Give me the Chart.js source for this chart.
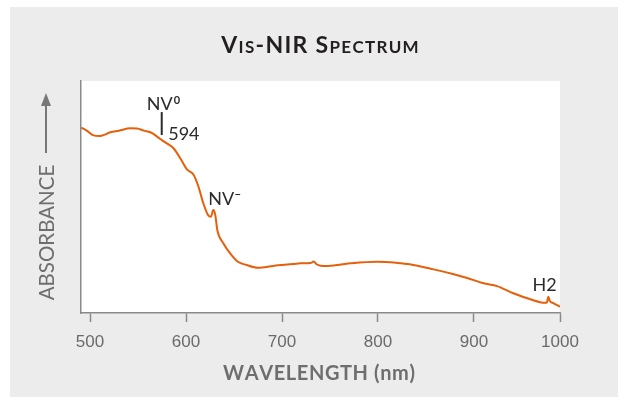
<!DOCTYPE html>
<html>
<head>
<meta charset="utf-8">
<script src="https://cdn.jsdelivr.net/npm/chart.js@4.4.0/dist/chart.umd.min.js"></script>
<style>
  html, body { margin: 0; padding: 0; background: #fff; }
  #wrap { width: 628px; height: 402px; }
</style>
</head>
<body>
<div id="wrap"><canvas id="spectrum" width="628" height="402"></canvas></div>
<script>
/* =========================
   DATA
========================= */

const wavelength = [
  491, 497, 503, 510, 516, 521, 530, 542, 549, 556, 564, 571, 576, 580, 587,
  594, 601, 608, 613, 618, 623, 626, 628.4, 630.5, 632.6, 639, 646, 654, 663,
  675, 691, 712, 719, 730, 733, 736, 740, 748, 771, 799, 820, 833, 858, 878,
  892, 910, 924, 941, 958, 974, 976, 977.4, 979, 983, 990
];

const absorbance = [
  0.799, 0.785, 0.767, 0.763, 0.770, 0.779, 0.786, 0.796, 0.795, 0.786, 0.777,
  0.757, 0.742, 0.731, 0.710, 0.667, 0.619, 0.595, 0.544, 0.473, 0.422, 0.415,
  0.444, 0.422, 0.358, 0.300, 0.257, 0.221, 0.207, 0.195, 0.203, 0.211, 0.214,
  0.216, 0.222, 0.210, 0.204, 0.203, 0.214, 0.221, 0.216, 0.210, 0.188, 0.168,
  0.152, 0.128, 0.116, 0.085, 0.060, 0.044, 0.046, 0.070, 0.052, 0.042, 0.027
];

// the reference puts its last tick ("1000") at the right edge of the plot
const tickNm = [500, 600, 700, 800, 900, 1000];
const tickLabels = ["500", "600", "700", "800", "900", "1000"];

const xMin = 490.6;
const xMax = 989.6;

/* =========================
   DECORATION PLUGIN
========================= */

const GRAY_TEXT = "#6e6e6e";
const DARK = "#231f20";

// draws text letter by letter so we can add tracking
function spacedText(ctx, parts, cx, baseline, spacing) {
  const chars = [];
  parts.forEach(p => {
    for (const c of p.t) chars.push({ c, font: p.font });
  });
  let total = 0;
  chars.forEach(ch => {
    ctx.font = ch.font;
    ch.w = ctx.measureText(ch.c).width;
    total += ch.w + spacing;
  });
  total -= spacing;
  let x = cx - total / 2;
  ctx.textAlign = "left";
  ctx.textBaseline = "alphabetic";
  chars.forEach(ch => {
    ctx.font = ch.font;
    ctx.fillText(ch.c, x, baseline);
    x += ch.w + spacing;
  });
}

const decor = {
  id: "decor",
  beforeDraw(chart) {
    const { ctx, chartArea: a } = chart;
    ctx.save();
    ctx.fillStyle = "#ececec";
    ctx.fillRect(10, 7, 608, 390);
    ctx.fillStyle = "#ffffff";
    ctx.fillRect(a.left, a.top, a.right - a.left, a.bottom - a.top);
    ctx.restore();
  },
  afterDraw(chart) {
    const { ctx } = chart;
    const xs = chart.scales.x;
    const ys = chart.scales.y;
    ctx.save();

    // title (small caps)
    const big = "bold 23px Lato, sans-serif";
    const small = "bold 17px Lato, sans-serif";
    ctx.fillStyle = DARK;
    spacedText(ctx, [
      { t: "V", font: big }, { t: "IS", font: small }, { t: "-NIR ", font: big },
      { t: "S", font: big }, { t: "PECTRUM", font: small }
    ], 320, 52.5, 1.3);

    // x title
    ctx.fillStyle = GRAY_TEXT;
    spacedText(ctx, [{ t: "WAVELENGTH (nm)", font: "bold 20px Lato, sans-serif" }], 319, 379.5, 0.6);

    // y title + arrow
    ctx.save();
    ctx.translate(46, 232.5);
    ctx.rotate(-Math.PI / 2);
    ctx.font = "20.5px Lato, sans-serif";
    ctx.textAlign = "center";
    ctx.textBaseline = "middle";
    ctx.fillText("ABSORBANCE", 0, 1);
    ctx.restore();
    ctx.strokeStyle = "#777";
    ctx.fillStyle = "#777";
    ctx.lineWidth = 2;
    ctx.beginPath();
    ctx.moveTo(46, 153);
    ctx.lineTo(46, 104);
    ctx.stroke();
    ctx.beginPath();
    ctx.moveTo(46, 93);
    ctx.lineTo(51, 106);
    ctx.lineTo(41, 106);
    ctx.closePath();
    ctx.fill();

    // annotations
    ctx.fillStyle = "#2b2b2b";
    ctx.strokeStyle = "#2b2b2b";
    ctx.textAlign = "left";
    ctx.textBaseline = "alphabetic";

    const mx = xs.getPixelForValue(574.7);
    ctx.lineWidth = 2;
    ctx.beginPath();
    ctx.moveTo(mx, ys.getPixelForValue(0.866));
    ctx.lineTo(mx, ys.getPixelForValue(0.767));
    ctx.stroke();

    ctx.font = "18px Lato, sans-serif";
    const nv0x = mx - 15;
    const nv0y = ys.getPixelForValue(0.875);
    ctx.fillText("NV", nv0x, nv0y);
    let w = ctx.measureText("NV").width;
    ctx.font = "bold 11px Lato, sans-serif";
    ctx.fillText("0", nv0x + w + 1, nv0y - 6);

    ctx.font = "18px Lato, sans-serif";
    ctx.fillText("594", mx + 6.5, ys.getPixelForValue(0.746));

    const nvx = xs.getPixelForValue(623.2);
    const nvy = ys.getPixelForValue(0.466);
    ctx.fillText("NV", nvx, nvy);
    w = ctx.measureText("NV").width;
    ctx.font = "bold 12px Lato, sans-serif";
    ctx.fillText("\u2013", nvx + w, nvy - 7);

    ctx.font = "18px Lato, sans-serif";
    ctx.fillText("H2", xs.getPixelForValue(961), ys.getPixelForValue(0.095));

    ctx.restore();
  }
};

/* =========================
   CHART
========================= */

const ctx = document.getElementById("spectrum").getContext("2d");

new Chart(ctx, {
  type: "line",
  data: {
    datasets: [{
      data: wavelength.map((x, i) => ({ x, y: absorbance[i] })),
      borderColor: "#e65f0a",
      borderWidth: 2,
      pointRadius: 0,
      cubicInterpolationMode: "monotone",
      fill: false
    }]
  },
  options: {
    responsive: false,
    animation: false,
    layout: { padding: { left: 0, right: 68, top: 81, bottom: 0 } },
    plugins: {
      legend: { display: false },
      tooltip: { enabled: false },
      title: { display: false }
    },
    scales: {
      x: {
        type: "linear",
        min: xMin,
        max: xMax,
        afterFit: s => { s.height = 89; },
        afterBuildTicks: s => {
          s.ticks = tickNm.map(v => ({ value: Math.min(v, s.max) }));
        },
        border: { display: true, color: "#8a8a8a", width: 1.5 },
        grid: {
          drawOnChartArea: false,
          drawTicks: true,
          tickLength: 9,
          tickColor: "#8a8a8a",
          tickWidth: 1.5
        },
        ticks: {
          autoSkip: false,
          maxRotation: 0,
          padding: 10,
          color: "#6a6a6a",
          font: { family: "'Liberation Sans', Arial, sans-serif", size: 17 },
          callback: (v, i) => tickLabels[i]
        }
      },
      y: {
        min: 0,
        max: 1,
        afterFit: s => { s.width = 81; },
        border: { display: true, color: "#8a8a8a", width: 1.5 },
        grid: { display: false },
        ticks: { display: false }
      }
    }
  },
  plugins: [decor]
});
</script>
</body>
</html>
